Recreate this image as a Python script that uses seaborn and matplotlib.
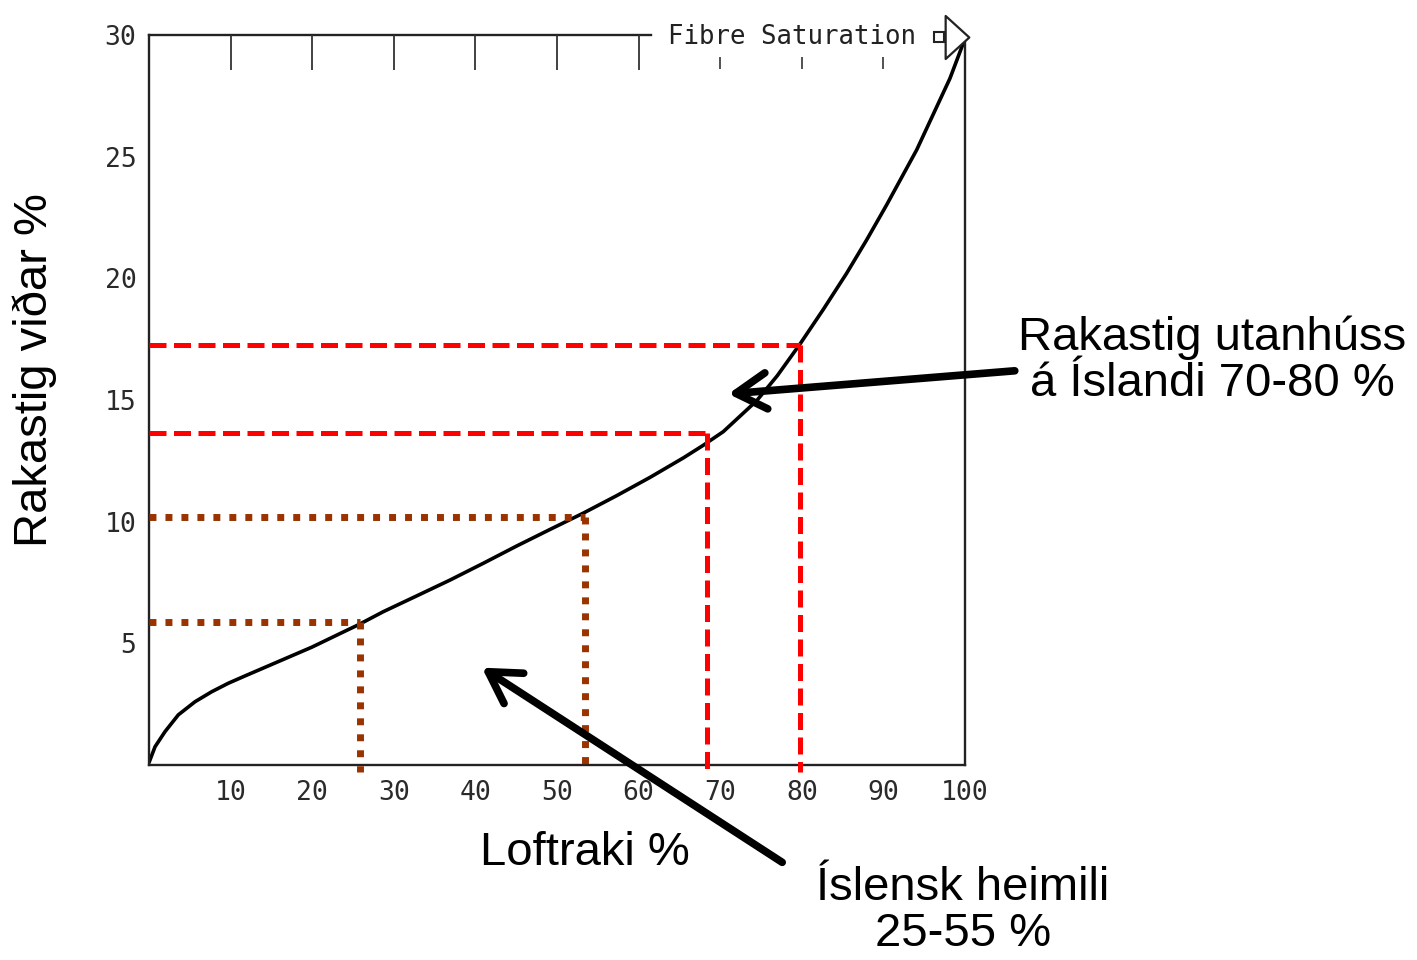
import matplotlib
matplotlib.use("Agg")
import matplotlib.pyplot as plt
import seaborn as sns
from matplotlib.path import Path

# ---- data ----
rel_humidity = [0, 0.74, 1.96, 3.59, 5.64, 7.68, 9.72, 11.76, 15.85, 19.94, 24.02,
                25.65, 28.71, 32.81, 36.89, 40.97, 45.06, 49.14, 53.22, 57.32, 61.40,
                65.48, 67.93, 70.38, 74.47, 77.0, 79.78, 82.63, 85.50, 87.95, 90.40,
                94.08, 98.16, 100]
wood_moisture = [0.1, 0.75, 1.37, 2.06, 2.60, 3.01, 3.36, 3.66, 4.25, 4.84, 5.50,
                 5.76, 6.30, 6.95, 7.60, 8.29, 9.00, 9.68, 10.35, 11.07, 11.82,
                 12.62, 13.14, 13.70, 14.97, 16.0, 17.30, 18.72, 20.21, 21.58, 23.02,
                 25.28, 28.22, 29.85]

home_rh = [25.9, 53.4]          # Íslensk heimili 25-55 %
home_mc = [5.86, 10.2]
outdoor_rh = [68.4, 79.8]       # utanhúss 70-80 %
outdoor_mc = [13.65, 17.25]

x_ticks = [10, 20, 30, 40, 50, 60, 70, 80, 90, 100]
x_inner_ticks = [10, 20, 30, 40, 50, 60, 70, 80, 90]
y_ticks = [5, 10, 15, 20, 25, 30]
y_inner_ticks = [5, 10, 15, 20, 25]
top_long_ticks = [10, 20, 30, 40, 50, 60]
top_short_ticks = [70, 80, 90]

fibre_label = "Fibre Saturation"
xlabel = "Loftraki %"
ylabel = "Rakastig viðar %"
outdoor_label = "Rakastig utanhúss\ná Íslandi 70-80 %"
home_label = "Íslensk heimili\n25-55 %"

# ---- figure ----
sns.set_theme(style="white")
plt.rcParams['font.family'] = ['Liberation Sans', 'DejaVu Sans']

W, H = 1417, 960
fig = plt.figure(figsize=(W / 100, H / 100), dpi=100)
fig.patch.set_facecolor("white")
ax = fig.add_axes([149 / W, 1 - 765 / H, (965 - 149) / W, (765 - 35) / H])
ax.set_facecolor("white")

sns.lineplot(x=rel_humidity, y=wood_moisture, ax=ax, color="black", lw=2.6,
             sort=True, estimator=None)
ax.lines[-1].set_solid_joinstyle("round")

ax.set_xlim(0, 100)
ax.set_ylim(0, 30)

# spines
for s in ax.spines.values():
    s.set_color("#222222")
    s.set_linewidth(1.7)
ax.spines['top'].set_bounds(0, 61.5)

tick_font = dict(family="DejaVu Sans Mono", size=19, color="#2a2a2a")

ax.set_xticks(x_ticks)
ax.set_xticklabels([str(t) for t in x_ticks], fontdict=tick_font)
ax.set_yticks(y_ticks)
ax.set_yticklabels([str(t) for t in y_ticks], fontdict=tick_font)
ax.tick_params(axis='both', which='major', length=0, pad=9)
ax.tick_params(axis='x', pad=11)

# inward ticks
ax.set_xticks(x_inner_ticks, minor=True)
ax.set_yticks(y_inner_ticks, minor=True)
ax.tick_params(which='minor', direction='in', length=22, width=1.2, color="#333333",
               bottom=True, left=True, right=True, top=False)

top = ax.twiny()
top.set_xlim(ax.get_xlim())
top.set_xticks(top_long_ticks)
top.set_xticklabels([])
top.tick_params(axis='x', direction='in', length=25, width=1.3, color="#333333")
for s in top.spines.values():
    s.set_visible(False)
top.grid(False)

ax.vlines(top_short_ticks, 28.6, 29.1, color="#333333", lw=1.2)

# Fibre saturation text and marker
ax.text(63.6, 29.9, fibre_label, ha="left", va="center",
        family="DejaVu Sans Mono", fontsize=18.5, color="#222222")
tri = Path([(-0.55, -1), (0.55, 0), (-0.55, 1), (-0.55, -1)],
           [Path.MOVETO, Path.LINETO, Path.LINETO, Path.CLOSEPOLY])
ax.plot([99.0], [29.9], marker=tri, markersize=31, mfc="white", mec="#222222",
        mew=1.6, clip_on=False, zorder=5)
ax.plot([96.8], [29.9], marker="s", markersize=7, mfc="white", mec="#222222",
        mew=1.5, clip_on=False, zorder=5)

# guide lines
red_style = dict(color="#FF0000", lw=3.6, linestyle=(0, (3.4, 1.5)),
                 dash_capstyle="butt", clip_on=False, zorder=3)
brown_style = dict(color="#993300", lw=5, linestyle=(0, (1.0, 1.3)),
                   dash_capstyle="butt", clip_on=False, zorder=3)
for xv, yv in zip(home_rh, home_mc):
    ax.plot([0, xv], [yv, yv], **brown_style)
    ax.plot([xv, xv], [yv, -0.3], **brown_style)
for xv, yv in zip(outdoor_rh, outdoor_mc):
    ax.plot([0, xv], [yv, yv], **red_style)
    ax.plot([xv, xv], [yv, -0.3], **red_style)

# arrows
arrow_props = dict(arrowstyle="->,head_length=1.1,head_width=0.65", lw=5.5,
                   color="black", mutation_scale=20, shrinkA=0, shrinkB=0)
ax.annotate("", xy=(71.0, 15.25), xytext=(106.1, 16.2), arrowprops=arrow_props,
            annotation_clip=False, zorder=6)
ax.annotate("", xy=(40.8, 4.0), xytext=(77.6, -4.0), arrowprops=arrow_props,
            annotation_clip=False, zorder=6)

# texts
big = 34
fig.text(1212 / W, 1 - 361 / H, outdoor_label, ha="center", va="center",
         fontsize=big, linespacing=1.05, color="black")
fig.text(963 / W, 1 - 911 / H, home_label, ha="center", va="center",
         fontsize=big, linespacing=1.05, color="black")
fig.text(585 / W, 1 - 853 / H, xlabel, ha="center", va="center",
         fontsize=big, color="black")
fig.text(35 / W, 1 - 370 / H, ylabel, ha="center", va="center",
         rotation=90, fontsize=big, color="black")

fig.savefig("out.png", dpi=100, facecolor="white")
